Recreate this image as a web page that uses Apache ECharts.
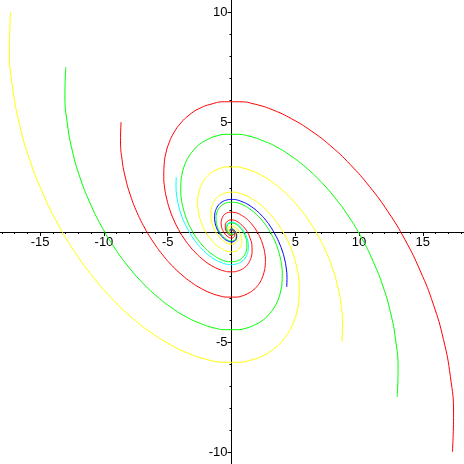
<!DOCTYPE html>
<html>
<head>
<meta charset="utf-8">
<script src="https://cdn.jsdelivr.net/npm/echarts/dist/echarts.min.js"></script>
<style>
html,body{margin:0;padding:0;background:#fff;}
#chart{width:464px;height:464px;}
</style>
</head>
<body>
<div id="chart"></div>
<script>
// Trajectories read from the phase portrait, as (x, y) points
var redOuter = [[17.32,-10.00],[17.41,-8.28],[17.16,-6.57],[16.62,-4.89],[15.82,-3.28],[14.80,-1.77],[13.61,-0.36],[12.27,0.92],[10.83,2.06],[9.32,3.06],[7.78,3.91],[6.24,4.60],[4.73,5.14],[3.28,5.54],[1.90,5.80],[0.62,5.92],[-0.56,5.92],[-1.61,5.81],[-2.54,5.61],[-3.33,5.31],[-3.98,4.95],[-4.50,4.53],[-4.89,4.06],[-5.15,3.57],[-5.28,3.05],[-5.31,2.53],[-5.24,2.00],[-5.07,1.49],[-4.83,1.00],[-4.52,0.54],[-4.15,0.11],[-3.74,-0.28],[-3.30,-0.63],[-2.84,-0.93],[-2.37,-1.19],[-1.91,-1.40],[-1.44,-1.57],[-1.00,-1.69],[-0.58,-1.77],[-0.19,-1.81],[0.17,-1.81],[0.49,-1.77],[0.77,-1.71],[1.02,-1.62],[1.22,-1.51],[1.37,-1.38],[1.49,-1.24],[1.57,-1.09],[1.61,-0.93],[1.60,-0.61],[1.47,-0.31],[1.27,-0.03],[1.01,0.19],[0.72,0.36],[0.44,0.48],[0.18,0.54],[-0.05,0.55],[-0.24,0.52],[-0.37,0.46],[-0.46,0.38],[-0.49,0.28],[-0.49,0.19],[-0.45,0.09],[-0.39,0.01],[-0.31,-0.06],[-0.13,-0.15],[0.02,-0.17],[0.11,-0.14],[0.15,-0.09]];
var yellowOuter = [[-17.32,10.00],[-17.41,8.28],[-17.16,6.57],[-16.62,4.89],[-15.82,3.28],[-14.80,1.77],[-13.61,0.36],[-12.27,-0.92],[-10.83,-2.06],[-9.32,-3.06],[-7.78,-3.91],[-6.24,-4.60],[-4.73,-5.14],[-3.28,-5.54],[-1.90,-5.80],[-0.62,-5.92],[0.56,-5.92],[1.61,-5.81],[2.54,-5.61],[3.33,-5.31],[3.98,-4.95],[4.50,-4.53],[4.89,-4.06],[5.15,-3.57],[5.28,-3.05],[5.31,-2.53],[5.24,-2.00],[5.07,-1.49],[4.83,-1.00],[4.52,-0.54],[4.15,-0.11],[3.74,0.28],[3.30,0.63],[2.84,0.93],[2.37,1.19],[1.91,1.40],[1.44,1.57],[1.00,1.69],[0.58,1.77],[0.19,1.81],[-0.17,1.81],[-0.49,1.77],[-0.77,1.71],[-1.02,1.62],[-1.22,1.51],[-1.37,1.38],[-1.49,1.24],[-1.57,1.09],[-1.61,0.93],[-1.60,0.61],[-1.47,0.31],[-1.27,0.03],[-1.01,-0.19],[-0.72,-0.36],[-0.44,-0.48],[-0.18,-0.54],[0.05,-0.55],[0.24,-0.52],[0.37,-0.46],[0.46,-0.38],[0.49,-0.28],[0.49,-0.19],[0.45,-0.09],[0.39,-0.01],[0.31,0.06],[0.13,0.15],[-0.02,0.17],[-0.11,0.14],[-0.15,0.09]];
var greenRight = [[12.99,-7.50],[13.06,-6.21],[12.87,-4.92],[12.47,-3.67],[11.87,-2.46],[11.10,-1.33],[10.20,-0.27],[9.20,0.69],[8.12,1.55],[6.99,2.30],[5.84,2.93],[4.68,3.45],[3.55,3.86],[2.46,4.15],[1.43,4.35],[0.46,4.44],[-0.42,4.44],[-1.21,4.36],[-1.90,4.20],[-2.50,3.99],[-2.99,3.71],[-3.38,3.40],[-3.67,3.05],[-3.86,2.68],[-3.96,2.29],[-3.98,1.89],[-3.93,1.50],[-3.80,1.12],[-3.62,0.75],[-3.39,0.40],[-3.11,0.08],[-2.81,-0.21],[-2.48,-0.47],[-2.13,-0.70],[-1.78,-0.89],[-1.43,-1.05],[-1.08,-1.18],[-0.75,-1.27],[-0.44,-1.33],[-0.14,-1.35],[0.13,-1.35],[0.37,-1.33],[0.58,-1.28],[0.76,-1.22],[0.91,-1.13],[1.03,-1.04],[1.12,-0.93],[1.18,-0.82],[1.21,-0.70],[1.20,-0.46],[1.10,-0.23],[0.95,-0.03],[0.76,0.14],[0.54,0.27],[0.33,0.36],[0.13,0.40],[-0.04,0.41],[-0.18,0.39],[-0.28,0.35],[-0.34,0.28],[-0.37,0.21],[-0.37,0.14],[-0.34,0.07],[-0.29,0.01],[-0.23,-0.04],[-0.10,-0.11],[0.01,-0.13],[0.08,-0.11],[0.11,-0.07]];
var greenLeft = [[-12.99,7.50],[-13.06,6.21],[-12.87,4.92],[-12.47,3.67],[-11.87,2.46],[-11.10,1.33],[-10.20,0.27],[-9.20,-0.69],[-8.12,-1.55],[-6.99,-2.30],[-5.84,-2.93],[-4.68,-3.45],[-3.55,-3.86],[-2.46,-4.15],[-1.43,-4.35],[-0.46,-4.44],[0.42,-4.44],[1.21,-4.36],[1.90,-4.20],[2.50,-3.99],[2.99,-3.71],[3.38,-3.40],[3.67,-3.05],[3.86,-2.68],[3.96,-2.29],[3.98,-1.89],[3.93,-1.50],[3.80,-1.12],[3.62,-0.75],[3.39,-0.40],[3.11,-0.08],[2.81,0.21],[2.48,0.47],[2.13,0.70],[1.78,0.89],[1.43,1.05],[1.08,1.18],[0.75,1.27],[0.44,1.33],[0.14,1.35],[-0.13,1.35],[-0.37,1.33],[-0.58,1.28],[-0.76,1.22],[-0.91,1.13],[-1.03,1.04],[-1.12,0.93],[-1.18,0.82],[-1.21,0.70],[-1.20,0.46],[-1.10,0.23],[-0.95,0.03],[-0.76,-0.14],[-0.54,-0.27],[-0.33,-0.36],[-0.13,-0.40],[0.04,-0.41],[0.18,-0.39],[0.28,-0.35],[0.34,-0.28],[0.37,-0.21],[0.37,-0.14],[0.34,-0.07],[0.29,-0.01],[0.23,0.04],[0.10,0.11],[-0.01,0.13],[-0.08,0.11],[-0.11,0.07]];
var yellowInner = [[8.66,-5.00],[8.70,-4.14],[8.58,-3.28],[8.31,-2.45],[7.91,-1.64],[7.40,-0.88],[6.80,-0.18],[6.13,0.46],[5.41,1.03],[4.66,1.53],[3.89,1.95],[3.12,2.30],[2.37,2.57],[1.64,2.77],[0.95,2.90],[0.31,2.96],[-0.28,2.96],[-0.81,2.91],[-1.27,2.80],[-1.66,2.66],[-1.99,2.48],[-2.25,2.27],[-2.44,2.03],[-2.57,1.78],[-2.64,1.53],[-2.66,1.26],[-2.62,1.00],[-2.54,0.75],[-2.41,0.50],[-2.26,0.27],[-2.08,0.06],[-1.87,-0.14],[-1.65,-0.31],[-1.42,-0.47],[-1.19,-0.60],[-0.95,-0.70],[-0.72,-0.78],[-0.50,-0.85],[-0.29,-0.88],[-0.09,-0.90],[0.09,-0.90],[0.25,-0.89],[0.39,-0.86],[0.51,-0.81],[0.61,-0.76],[0.69,-0.69],[0.75,-0.62],[0.78,-0.54],[0.81,-0.47],[0.80,-0.31],[0.74,-0.15],[0.63,-0.02],[0.50,0.10],[0.36,0.18],[0.22,0.24],[0.09,0.27],[-0.03,0.28],[-0.12,0.26],[-0.19,0.23],[-0.23,0.19],[-0.25,0.14],[-0.22,0.05],[-0.15,-0.03],[-0.07,-0.07],[0.01,-0.08]];
var redInner = [[-8.66,5.00],[-8.70,4.14],[-8.58,3.28],[-8.31,2.45],[-7.91,1.64],[-7.40,0.88],[-6.80,0.18],[-6.13,-0.46],[-5.41,-1.03],[-4.66,-1.53],[-3.89,-1.95],[-3.12,-2.30],[-2.37,-2.57],[-1.64,-2.77],[-0.95,-2.90],[-0.31,-2.96],[0.28,-2.96],[0.81,-2.91],[1.27,-2.80],[1.66,-2.66],[1.99,-2.48],[2.25,-2.27],[2.44,-2.03],[2.57,-1.78],[2.64,-1.53],[2.66,-1.26],[2.62,-1.00],[2.54,-0.75],[2.41,-0.50],[2.26,-0.27],[2.08,-0.06],[1.87,0.14],[1.65,0.31],[1.42,0.47],[1.19,0.60],[0.95,0.70],[0.72,0.78],[0.50,0.85],[0.29,0.88],[0.09,0.90],[-0.09,0.90],[-0.25,0.89],[-0.39,0.86],[-0.51,0.81],[-0.61,0.76],[-0.69,0.69],[-0.75,0.62],[-0.78,0.54],[-0.81,0.47],[-0.80,0.31],[-0.74,0.15],[-0.63,0.02],[-0.50,-0.10],[-0.36,-0.18],[-0.22,-0.24],[-0.09,-0.27],[0.03,-0.28],[0.12,-0.26],[0.19,-0.23],[0.23,-0.19],[0.25,-0.14],[0.22,-0.05],[0.15,0.03],[0.07,0.07],[-0.01,0.08]];
var blueSmall = [[4.33,-2.50],[4.35,-2.07],[4.29,-1.64],[4.16,-1.22],[3.96,-0.82],[3.70,-0.44],[3.40,-0.09],[3.07,0.23],[2.71,0.52],[2.33,0.77],[1.95,0.98],[1.56,1.15],[1.18,1.29],[0.82,1.38],[0.48,1.45],[0.15,1.48],[-0.14,1.48],[-0.40,1.45],[-0.63,1.40],[-0.83,1.33],[-1.00,1.24],[-1.13,1.13],[-1.22,1.02],[-1.29,0.89],[-1.32,0.76],[-1.33,0.63],[-1.31,0.50],[-1.27,0.37],[-1.21,0.25],[-1.13,0.13],[-1.04,0.03],[-0.94,-0.07],[-0.83,-0.16],[-0.71,-0.23],[-0.59,-0.30],[-0.48,-0.35],[-0.36,-0.39],[-0.25,-0.42],[-0.15,-0.44],[-0.05,-0.45],[0.04,-0.45],[0.19,-0.43],[0.30,-0.38],[0.37,-0.31],[0.40,-0.23],[0.40,-0.15],[0.37,-0.08],[0.32,-0.01],[0.25,0.05],[0.11,0.12],[-0.01,0.14],[-0.09,0.12],[-0.12,0.07],[-0.11,0.02]];
var cyanSmall = [[-4.33,2.50],[-4.35,2.07],[-4.29,1.64],[-4.16,1.22],[-3.96,0.82],[-3.70,0.44],[-3.40,0.09],[-3.07,-0.23],[-2.71,-0.52],[-2.33,-0.77],[-1.95,-0.98],[-1.56,-1.15],[-1.18,-1.29],[-0.82,-1.38],[-0.48,-1.45],[-0.15,-1.48],[0.14,-1.48],[0.40,-1.45],[0.63,-1.40],[0.83,-1.33],[1.00,-1.24],[1.13,-1.13],[1.22,-1.02],[1.29,-0.89],[1.32,-0.76],[1.33,-0.63],[1.31,-0.50],[1.27,-0.37],[1.21,-0.25],[1.13,-0.13],[1.04,-0.03],[0.94,0.07],[0.83,0.16],[0.71,0.23],[0.59,0.30],[0.48,0.35],[0.36,0.39],[0.25,0.42],[0.15,0.44],[0.05,0.45],[-0.04,0.45],[-0.19,0.43],[-0.30,0.38],[-0.37,0.31],[-0.40,0.23],[-0.40,0.15],[-0.37,0.08],[-0.32,0.01],[-0.25,-0.05],[-0.11,-0.12],[0.01,-0.14],[0.09,-0.12],[0.12,-0.07],[0.11,-0.02]];

var xTickLabels = [-15, -10, -5, 5, 10, 15];
var yTickLabels = [-10, -5, 5, 10];

var chart = echarts.init(document.getElementById('chart'), null, {renderer: 'canvas'});

function mkSeries(data, color) {
  return {
    type: 'line',
    data: data,
    showSymbol: false,
    smooth: true,
    clip: false,
    silent: true,
    lineStyle: {color: color, width: 1},
    animation: false
  };
}

var labelFont = {fontFamily: 'Liberation Sans', fontSize: 13, color: '#000'};

chart.setOption({
  animation: false,
  backgroundColor: '#fff',
  grid: {left: -23.6, right: -22.6, top: -98, bottom: -98, containLabel: false, outerBoundsMode: 'none'},
  xAxis: {
    type: 'value', min: -20, max: 20, interval: 5,
    position: 'bottom', offset: -330,
    axisLine: {onZero: false, lineStyle: {color: '#000', width: 1}},
    axisTick: {show: true, length: 4, lineStyle: {color: '#000'}},
    minorTick: {show: true, splitNumber: 5, length: 2, lineStyle: {color: '#000'}},
    splitLine: {show: false},
    axisLabel: Object.assign({
      margin: 4,
      formatter: function (v) { return xTickLabels.indexOf(v) >= 0 ? String(v) : ''; }
    }, labelFont)
  },
  yAxis: {
    type: 'value', min: -15, max: 15, interval: 5,
    position: 'left', offset: -255.1,
    axisLine: {onZero: false, lineStyle: {color: '#000', width: 1}},
    axisTick: {show: true, length: 4, lineStyle: {color: '#000'}},
    minorTick: {show: true, splitNumber: 5, length: 2, lineStyle: {color: '#000'}},
    splitLine: {show: false},
    axisLabel: Object.assign({
      margin: 4,
      formatter: function (v) { return yTickLabels.indexOf(v) >= 0 ? String(v) : ''; }
    }, labelFont)
  },
  series: [
    mkSeries(yellowOuter, '#ffff00'),
    mkSeries(greenLeft, '#00ff00'),
    mkSeries(redInner, '#ff0000'),
    mkSeries(cyanSmall, '#00ffff'),
    mkSeries(blueSmall, '#0000ff'),
    mkSeries(yellowInner, '#ffff00'),
    mkSeries(greenRight, '#00ff00'),
    mkSeries(redOuter, '#ff0000')
  ]
});
</script>
</body>
</html>
